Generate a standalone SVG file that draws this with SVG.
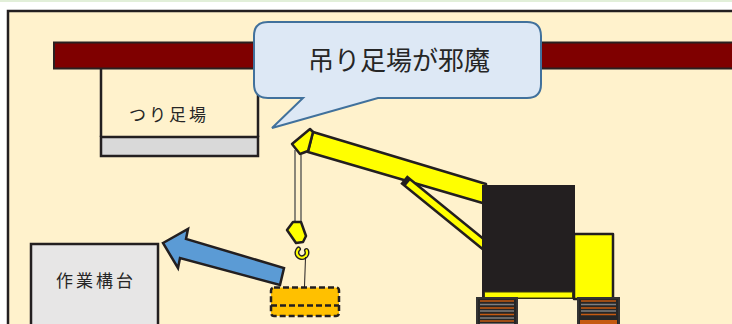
<svg xmlns="http://www.w3.org/2000/svg" width="732" height="324" viewBox="0 0 732 324">
  <defs>
    <style>
      .ink { stroke: #231f20; stroke-linejoin: miter; }
      .lbl { font-family: "Noto Sans CJK JP", "Noto Sans", sans-serif; fill: #262626; text-anchor: middle; }
      .yel { fill: #ffff00; stroke: #231f20; stroke-width: 2.5; stroke-linejoin: round; }
      .tr-o { stroke: #c55a11; stroke-width: 1.5; }
      .tr-g { stroke: #7f7f7f; stroke-width: 1.5; }
    </style>
  </defs>

  <!-- page backdrop -->
  <rect x="0" y="0" width="732" height="324" fill="#ffffff"/>
  <rect x="0" y="0" width="732" height="2" fill="#e2efd9"/>
  <rect x="8" y="11" width="740" height="330" fill="#fff2cc" class="ink" stroke-width="2.5"/>

  <!-- overhead beam -->
  <g id="beam">
    <rect x="54" y="42.5" width="700" height="26" fill="#7f0000" stroke="#2a2020" stroke-width="2"/>
  </g>

  <!-- suspended scaffold -->
  <g id="scaffold">
    <path d="M101 69 V137 M258 69 V137" fill="none" class="ink" stroke-width="2.5"/>
    <rect x="101" y="137" width="157" height="19" fill="#d9d9d9" class="ink" stroke-width="2.5"/>
    <text class="lbl" x="169" y="121" font-size="17" letter-spacing="3">つり足場</text>
  </g>

  <!-- work platform -->
  <g id="platform">
    <rect x="31" y="244" width="127" height="100" fill="#e7e6e6" class="ink" stroke-width="2.5"/>
    <text class="lbl" x="96" y="287" font-size="17" letter-spacing="3">作業構台</text>
  </g>

  <!-- crane -->
  <g id="crane">
    <!-- boom and strut -->
    <polygon class="yel" points="313,132 486,184 486,204 308,152"/>
    <line x1="408" y1="183" x2="488" y2="248" stroke="#231f20" stroke-width="11" stroke-linecap="square"/>
    <line x1="408" y1="183" x2="488" y2="248" stroke="#ffff00" stroke-width="6" stroke-linecap="butt"/>
    <!-- boom head -->
    <polygon class="yel" points="292,144 310,129 313,132 308,151 300,154"/>
    <!-- cab -->
    <rect x="482" y="185" width="93" height="114" fill="#231f20"/>
    <rect x="574" y="234" width="39" height="65" class="yel" stroke-width="2"/>
    <rect x="484.5" y="292" width="88" height="6" fill="#ffff00" stroke="#3a3a10" stroke-width="1"/>
    <!-- crawler tracks -->
    <rect x="477" y="298" width="40" height="32" fill="#262626" stroke="#333333" stroke-width="2"/>
    <rect x="578" y="298" width="41" height="32" fill="#262626" stroke="#333333" stroke-width="2"/>
    <rect x="580" y="320" width="37" height="8" fill="#c55a11"/>
    <g>
      <line class="tr-o" x1="480" y1="301" x2="514" y2="301"/>
      <line class="tr-g" x1="480" y1="304.5" x2="514" y2="304.5"/>
      <line class="tr-o" x1="480" y1="308" x2="514" y2="308"/>
      <line class="tr-g" x1="480" y1="311" x2="514" y2="311"/>
      <line class="tr-o" x1="480" y1="314.5" x2="514" y2="314.5"/>
      <line class="tr-g" x1="480" y1="318" x2="514" y2="318"/>
      <line class="tr-o" x1="480" y1="321" x2="514" y2="321"/>
      <line class="tr-g" x1="480" y1="324" x2="514" y2="324"/>
      <line class="tr-o" x1="581" y1="301" x2="616" y2="301"/>
      <line class="tr-g" x1="581" y1="304.5" x2="616" y2="304.5"/>
      <line class="tr-o" x1="581" y1="308" x2="616" y2="308"/>
      <line class="tr-g" x1="581" y1="311" x2="616" y2="311"/>
      <line class="tr-o" x1="581" y1="314.5" x2="616" y2="314.5"/>
    </g>
    <!-- hoist rope and hook -->
    <path d="M295 150 V223 M301 155 V223" fill="none" stroke="#4d4d4d" stroke-width="1.3"/>
    <polygon class="yel" points="287,230 293,222 301,222 306,236 303,242 296,243"/>
    <path d="M298.5 249 A5 5 0 1 0 306.5 250.5" fill="none" stroke="#231f20" stroke-width="5" stroke-linecap="round"/>
    <path d="M298.5 249 A5 5 0 1 0 306.5 250.5" fill="none" stroke="#ffff00" stroke-width="2.2" stroke-linecap="round"/>
    <line x1="305.5" y1="257" x2="304.5" y2="287" stroke="#231f20" stroke-width="1"/>
  </g>

  <!-- suspended load -->
  <g id="load">
    <rect x="271" y="287.5" width="68" height="28.5" rx="3" fill="#ffc000" stroke="#231f20" stroke-width="2.5" stroke-dasharray="6 3"/>
    <line x1="271" y1="305.5" x2="339" y2="305.5" stroke="#231f20" stroke-width="2.5" stroke-dasharray="6 3"/>
  </g>

  <!-- movement arrow -->
  <g id="connectors">
    <polygon points="163,243 188,229 186,239 284,268 280,285 180,258 178,268" fill="#5b9bd5" stroke="#231f20" stroke-width="2.5" stroke-linejoin="miter"/>
  </g>

  <!-- callout -->
  <g id="callout">
    <path d="M268 22 H527 Q541 22 541 36 V84 Q541 98 527 98 H378 L272 128 L303 98 H268 Q254 98 254 84 V36 Q254 22 268 22 Z" fill="#dde8f5" stroke="#41719c" stroke-width="2"/>
    <text class="lbl" x="399" y="70" font-size="26">吊り足場が邪魔</text>
  </g>
</svg>
